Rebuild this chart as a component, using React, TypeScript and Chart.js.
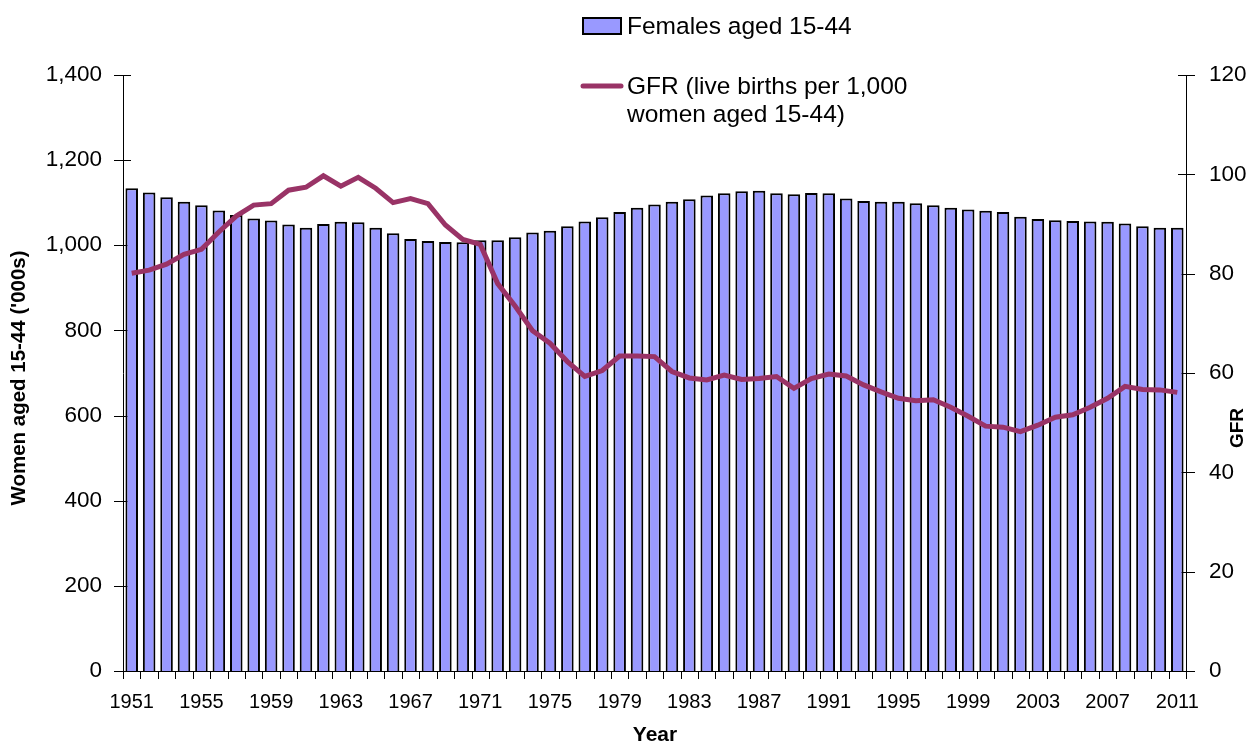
import React, { useEffect, useRef } from "react";
import { Chart, registerables } from "chart.js";

Chart.register(...registerables);

const years = [
  "1951", "1952", "1953", "1954", "1955", "1956", "1957", "1958", "1959", "1960",
  "1961", "1962", "1963", "1964", "1965", "1966", "1967", "1968", "1969", "1970",
  "1971", "1972", "1973", "1974", "1975", "1976", "1977", "1978", "1979", "1980",
  "1981", "1982", "1983", "1984", "1985", "1986", "1987", "1988", "1989", "1990",
  "1991", "1992", "1993", "1994", "1995", "1996", "1997", "1998", "1999", "2000",
  "2001", "2002", "2003", "2004", "2005", "2006", "2007", "2008", "2009", "2010",
  "2011",
];

// Females aged 15-44 ('000s)
const females = [
  1134, 1124, 1113, 1102, 1094, 1082, 1071, 1063, 1058, 1049,
  1041, 1050, 1055, 1054, 1041, 1028, 1015, 1010, 1008, 1007,
  1012, 1012, 1019, 1030, 1034, 1045, 1056, 1066, 1078, 1088,
  1096, 1102, 1108, 1117, 1122, 1127, 1128, 1122, 1120, 1123,
  1122, 1110, 1104, 1102, 1102, 1099, 1094, 1088, 1084, 1081,
  1078, 1067, 1062, 1059, 1057, 1056, 1055, 1051, 1045, 1041,
  1041,
];

// GFR (live births per 1,000 women aged 15-44)
const gfr = [
  80.1, 80.7, 81.9, 83.9, 84.9, 88.4, 91.6, 93.8, 94.1, 96.8,
  97.4, 99.7, 97.6, 99.4, 97.2, 94.3, 95.1, 94.1, 89.8, 86.9,
  85.9, 78.0, 73.5, 68.5, 66.0, 62.3, 59.3, 60.5, 63.4, 63.4,
  63.3, 60.3, 59.0, 58.6, 59.6, 58.7, 58.9, 59.3, 56.9, 58.9,
  59.8, 59.4, 57.6, 56.2, 54.9, 54.4, 54.6, 53.1, 51.3, 49.3,
  49.1, 48.2, 49.5, 51.1, 51.6, 53.1, 54.9, 57.3, 56.7, 56.6,
  56.1,
];

const leftTicks = [0, 200, 400, 600, 800, 1000, 1200, 1400];
const rightTicks = [0, 20, 40, 60, 80, 100, 120];

const FONT = "'Liberation Sans', Arial, Helvetica, sans-serif";
const BAR_FILL = "#9999FF";
const LINE_COLOR = "#993366";

const decor = {
  id: "decor",
  beforeDatasetsDraw(chart: any) {
    const { ctx, chartArea: a, scales } = chart;
    ctx.save();
    ctx.strokeStyle = "#000";
    ctx.lineWidth = 1;
    const yl = scales.y;
    const yr = scales.y1;
    leftTicks.forEach((v) => {
      const y = Math.round(yl.getPixelForValue(v)) + 0.5;
      ctx.beginPath();
      ctx.moveTo(a.left - 9, y);
      ctx.lineTo(a.left + 8, y);
      ctx.stroke();
    });
    rightTicks.forEach((v) => {
      const y = Math.round(yr.getPixelForValue(v)) + 0.5;
      ctx.beginPath();
      ctx.moveTo(a.right - 8, y);
      ctx.lineTo(a.right + 9, y);
      ctx.stroke();
    });
    const n = years.length;
    for (let i = 0; i <= n; i++) {
      const x = Math.round(a.left + (i * (a.right - a.left)) / n) + 0.5;
      ctx.beginPath();
      ctx.moveTo(x, a.bottom);
      ctx.lineTo(x, a.bottom + 8);
      ctx.stroke();
    }
    ctx.restore();
  },
  afterDraw(chart: any) {
    const { ctx } = chart;
    ctx.save();
    ctx.fillStyle = "#000";
    // axis titles
    ctx.textAlign = "center";
    ctx.textBaseline = "middle";
    ctx.font = `bold 20.5px ${FONT}`;
    ctx.save();
    ctx.translate(19, 378);
    ctx.rotate(-Math.PI / 2);
    ctx.fillText("Women aged 15-44 ('000s)", 0, 0);
    ctx.restore();
    ctx.font = `bold 19px ${FONT}`;
    ctx.save();
    ctx.translate(1238, 428);
    ctx.rotate(-Math.PI / 2);
    ctx.fillText("GFR", 0, 0);
    ctx.restore();
    ctx.font = `bold 21px ${FONT}`;
    ctx.fillText("Year", 655, 735);

    // legend
    ctx.fillStyle = BAR_FILL;
    ctx.fillRect(583, 18, 38, 16);
    ctx.strokeStyle = "#000";
    ctx.lineWidth = 2;
    ctx.strokeRect(583, 18, 38, 16);
    ctx.strokeStyle = LINE_COLOR;
    ctx.lineWidth = 5;
    ctx.lineCap = "round";
    ctx.beginPath();
    ctx.moveTo(583, 86);
    ctx.lineTo(621, 86);
    ctx.stroke();
    ctx.fillStyle = "#000";
    ctx.textAlign = "left";
    ctx.font = `24.5px ${FONT}`;
    ctx.fillText("Females aged 15-44", 627, 27);
    ctx.fillText("GFR (live births per 1,000", 627, 87);
    ctx.fillText("women aged 15-44)", 627, 115);
    ctx.restore();
  },
};

export default function App() {
  const ref = useRef<HTMLCanvasElement | null>(null);
  useEffect(() => {
    if (!ref.current) return;
    Chart.defaults.font.family = FONT;
    Chart.defaults.color = "#000";
    const chart = new Chart(ref.current, {
      type: "bar",
      data: {
        labels: years,
        datasets: [
          {
            type: "line",
            label: "GFR (live births per 1,000 women aged 15-44)",
            data: gfr,
            yAxisID: "y1",
            borderColor: LINE_COLOR,
            borderWidth: 5,
            pointRadius: 0,
            tension: 0,
            fill: false,
            order: 0,
          } as any,
          {
            type: "bar",
            label: "Females aged 15-44",
            data: females,
            yAxisID: "y",
            backgroundColor: BAR_FILL,
            borderColor: "#000",
            borderWidth: 2,
            barPercentage: 0.72,
            categoryPercentage: 1.0,
            order: 1,
          },
        ],
      },
      options: {
        responsive: false,
        animation: false,
        layout: { padding: { top: 75, left: 0, right: 0, bottom: 0 } },
        plugins: {
          legend: { display: false },
          tooltip: { enabled: false },
          title: { display: false },
        },
        scales: {
          x: {
            offset: true,
            grid: { display: false },
            border: { display: true, color: "#000", width: 1 },
            ticks: {
              autoSkip: false,
              maxRotation: 0,
              minRotation: 0,
              padding: 11,
              font: { size: 20 },
              color: "#000",
              callback: (_v: any, i: number) => (i % 4 === 0 ? years[i] : ""),
            },
            afterFit: (s: any) => {
              s.height = 73;
            },
          },
          y: {
            position: "left",
            min: 0,
            max: 1400,
            grid: { display: false },
            border: { display: true, color: "#000", width: 1 },
            ticks: {
              stepSize: 200,
              padding: 13,
              font: { size: 22.5 },
              color: "#000",
              callback: (v: any) => Number(v).toLocaleString("en-US"),
            },
            afterFit: (s: any) => {
              s.width = 123;
            },
          },
          y1: {
            position: "right",
            min: 0,
            max: 120,
            grid: { display: false },
            border: { display: true, color: "#000", width: 1 },
            ticks: {
              stepSize: 20,
              padding: 15,
              font: { size: 22.5 },
              color: "#000",
            },
            afterFit: (s: any) => {
              s.width = 64;
            },
          },
        },
      },
      plugins: [decor],
    });
    return () => chart.destroy();
  }, []);
  return (
    <div style={{ position: "fixed", left: 0, top: 0, width: 1250, height: 744, background: "#fff" }}>
      <canvas ref={ref} width={1250} height={744} style={{ width: 1250, height: 744, display: "block" }} />
    </div>
  );
}
